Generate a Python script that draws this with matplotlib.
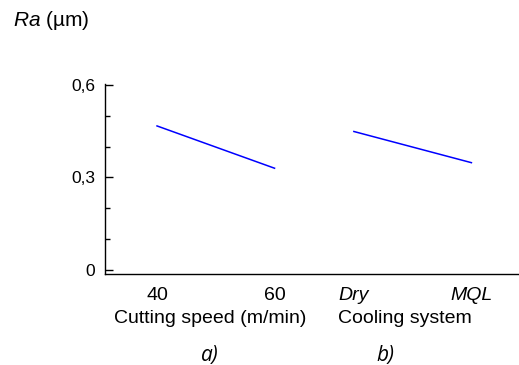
import numpy
import matplotlib
matplotlib.use("Agg")
import matplotlib.pyplot as pyplot
import matplotlib.ticker

pyplot.rcParams["font.family"] = ["Liberation Sans", "DejaVu Sans"]
pyplot.rcParams["mathtext.fontset"] = "custom"
pyplot.rcParams["mathtext.rm"] = "Liberation Sans"
pyplot.rcParams["mathtext.it"] = "Liberation Sans:italic"

# --- Data ---
speedLevels = ["40", "60"]
speedRa = [0.467, 0.330]
coolingLevels = ["Dry", "MQL"]
coolingRa = [0.449, 0.348]

# positions along the shared horizontal axis
speedPositions = [1.0, 2.0]
coolingPositions = [2.675, 3.675]

yMajorTicks = [0.0, 0.3, 0.6]
yMajorLabels = ["0", "0,3", "0,6"]

lineColor = (0.0, 0.0, 1.0)


figure = pyplot.figure( figsize=(5.19, 3.65), dpi=100 )
axis = figure.add_axes( [0.202, 0.249, 0.798, 0.521] )

axis.plot( speedPositions, speedRa, "-", color=lineColor, linewidth=1.1 )
axis.plot( coolingPositions, coolingRa, "-", color=lineColor, linewidth=1.1 )

axis.set_xlim( 0.556, 4.08 )
axis.set_ylim( -0.013, 0.603 )

axis.spines["top"].set_visible( False )
axis.spines["right"].set_visible( False )
for side in ["left", "bottom"]:
    axis.spines[side].set_linewidth( 1.0 )

axis.set_yticks( yMajorTicks )
axis.set_yticklabels( yMajorLabels )
axis.yaxis.set_minor_locator( matplotlib.ticker.MultipleLocator(0.1) )
axis.tick_params( axis="y", which="major", direction="in", length=5.8, width=1.0,
                  pad=7, labelsize=12.5 )
axis.tick_params( axis="y", which="minor", direction="in", length=3.6, width=1.0 )

axis.set_xticks( speedPositions + coolingPositions )
axis.set_xticklabels( speedLevels + coolingLevels )
axis.tick_params( axis="x", which="both", length=0, pad=9, labelsize=14 )
for label in axis.get_xticklabels()[2:]:
    label.set_style( "italic" )

transform = axis.get_xaxis_transform()
axis.text( 1.45, -0.232, "Cutting speed (m/min)", transform=transform,
           ha="center", va="center", fontsize=14 )
axis.text( 3.11, -0.232, "Cooling system", transform=transform,
           ha="center", va="center", fontsize=14 )
axis.text( 1.45, -0.43, "a)", transform=transform, ha="center", va="center",
           fontsize=15, style="italic", family="Open Sans" )
axis.text( 2.94, -0.43, "b)", transform=transform, ha="center", va="center",
           fontsize=15, style="italic", family="Open Sans" )

figure.text( 0.025, 0.945, "$\\mathit{Ra}$ (µm)", fontsize=15, ha="left", va="center" )

figure.savefig( "out.png", dpi=100 )
